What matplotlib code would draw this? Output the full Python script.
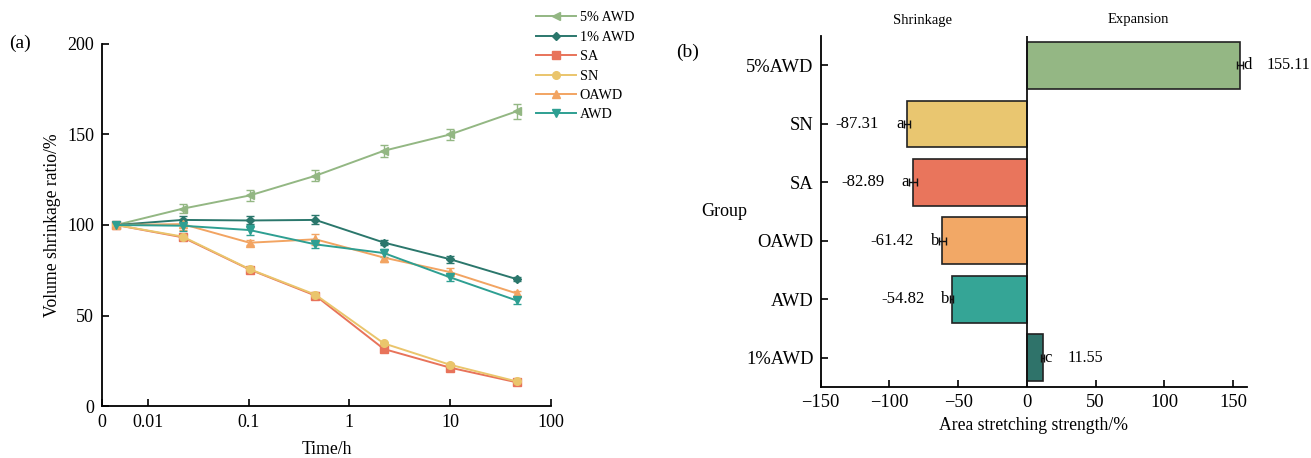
import matplotlib
matplotlib.use("Agg")
import matplotlib.pyplot as plt
from matplotlib.lines import Line2D
import numpy as np

plt.rcParams["font.family"] = ["Liberation Serif", "DejaVu Serif"]
plt.rcParams["axes.unicode_minus"] = True

# ---------------- (a) volume shrinkage ratio over time ----------------
time_h = [0.0048, 0.022, 0.102, 0.46, 2.2, 10.0, 46.0]
series_names = ["5% AWD", "1% AWD", "SA", "SN", "OAWD", "AWD"]
ratio_5awd = [100, 109, 116.3, 127.2, 141, 150, 162.8]
ratio_1awd = [100, 102.8, 102.5, 102.8, 90.3, 81.1, 70.1]
ratio_sa = [100, 93.2, 75.4, 61, 31.5, 21.2, 13.1]
ratio_sn = [100, 93.6, 75.6, 61.5, 34.6, 22.8, 13.6]
ratio_oawd = [100, 100.5, 90.2, 92.1, 82, 74, 62.2]
ratio_awd = [100, 99.6, 97.2, 89.3, 84.5, 71.1, 58.3]
err_5awd = [0.8, 2.5, 3, 3, 3.2, 3, 4.2]
err_1awd = [0.8, 2, 2.2, 2.5, 1.5, 2, 1]
err_sa = [0.8, 1.5, 1.2, 1.2, 1, 1, 1]
err_sn = [0.8, 1.5, 1.2, 1.5, 1, 1, 1]
err_oawd = [0.8, 3, 1.5, 3, 2.5, 2, 1.5]
err_awd = [0.8, 3, 3, 2, 2, 2, 2]

line_colors = ["#93b783", "#2b776c", "#e8735a", "#eac56c", "#f2a462", "#2e9f92"]
line_markers = ["<", "D", "s", "o", "^", "v"]

# ---------------- (b) area stretching strength ----------------
groups = ["1%AWD", "AWD", "OAWD", "SA", "SN", "5%AWD"]
strength = [11.55, -54.82, -61.42, -82.89, -87.31, 155.11]
strength_err = [1.0, 1.2, 2.5, 2.8, 2.0, 2.2]
letters = ["c", "b", "b", "a", "a", "d"]
bar_colors = ["#2f736a", "#35a596", "#f2a866", "#e9755c", "#e9c670", "#94b784"]

fig = plt.figure(figsize=(13.11, 4.58), dpi=100)

# ---- panel (a)
ax1 = fig.add_axes([0.078, 0.1135, 0.342, 0.7905])
all_ratios = [ratio_5awd, ratio_1awd, ratio_sa, ratio_sn, ratio_oawd, ratio_awd]
all_errs = [err_5awd, err_1awd, err_sa, err_sn, err_oawd, err_awd]
handles = []
for name, vals, errs, col, mk in zip(series_names, all_ratios, all_errs, line_colors, line_markers):
    ms = 4.5 if mk == "D" else 5.5
    ax1.errorbar(time_h, vals, yerr=errs, color=col, marker=mk, ms=ms, lw=1.4,
                 capsize=3, elinewidth=1.0, capthick=1.0)
    handles.append(Line2D([], [], color=col, marker=mk, ms=ms, lw=1.4))

ax1.set_xscale("log")
ax1.set_xlim(0.0035, 100)
ax1.set_ylim(0, 200)
ax1.set_xticks([0.0035, 0.01, 0.1, 1, 10, 100])
ax1.set_xticklabels(["0", "0.01", "0.1", "1", "10", "100"])
ax1.xaxis.set_minor_locator(matplotlib.ticker.NullLocator())
ax1.set_yticks([0, 50, 100, 150, 200])
ax1.tick_params(direction="in", length=5, width=1.2, labelsize=13, pad=6)
ax1.spines["top"].set_visible(False)
ax1.spines["right"].set_visible(False)
ax1.spines["left"].set_linewidth(1.3)
ax1.spines["bottom"].set_linewidth(1.3)
ax1.set_xlabel("Time/h", fontsize=12.7, labelpad=7)
ax1.set_ylabel("Volume shrinkage ratio/%", fontsize=12.7, labelpad=4)
fig.text(0.007, 0.905, "(a)", fontsize=14, va="center")

fig.legend(handles, series_names, loc="upper left", bbox_to_anchor=(0.399, 1.003),
           frameon=False, fontsize=10.2, handlelength=2.8, handletextpad=0.3,
           labelspacing=0.45)

# ---- panel (b)
ax2 = fig.add_axes([0.626, 0.155, 0.325, 0.766])
ypos = np.arange(len(groups))
ax2.barh(ypos, strength, height=0.8, color=bar_colors, edgecolor="#222222", linewidth=1.2)
ax2.errorbar(strength, ypos, xerr=strength_err, fmt="none", ecolor="#111111",
             elinewidth=1.0, capsize=3, capthick=1.0)
ax2.axvline(0, color="#111111", lw=1.3)
for y, v, e, lt in zip(ypos, strength, strength_err, letters):
    if v < 0:
        ax2.annotate(lt, (v - e, y), xytext=(0, 0), textcoords="offset points",
                     ha="right", va="center", fontsize=12)
        ax2.annotate(f"{v:.2f}", (v - e, y), xytext=(-18, 0), textcoords="offset points",
                     ha="right", va="center", fontsize=12)
    else:
        ax2.annotate(lt, (v + e, y), xytext=(0.5, 0), textcoords="offset points",
                     ha="left", va="center", fontsize=12)
        ax2.annotate(f"{v:.2f}", (v + e, y), xytext=(17, 0), textcoords="offset points",
                     ha="left", va="center", fontsize=11.6, annotation_clip=False)

ax2.set_xlim(-150, 160)
ax2.set_ylim(-0.5, 5.5)
ax2.set_xticks([-150, -100, -50, 0, 50, 100, 150])
ax2.set_yticks(ypos)
ax2.set_yticklabels(groups)
ax2.tick_params(direction="in", length=5, width=1.2, labelsize=13.3, pad=5)
ax2.spines["top"].set_visible(False)
ax2.spines["right"].set_visible(False)
ax2.spines["left"].set_linewidth(1.3)
ax2.spines["bottom"].set_linewidth(1.3)
ax2.set_xlabel("Area stretching strength/%", fontsize=12.7, labelpad=4)
ax2.set_ylabel("Group", fontsize=13, rotation=0, labelpad=16, va="center")
ax2.text(-76, 1.025, "Shrinkage", transform=ax2.get_xaxis_transform(),
         ha="center", va="bottom", fontsize=10.5)
ax2.text(81, 1.03, "Expansion", transform=ax2.get_xaxis_transform(),
         ha="center", va="bottom", fontsize=10.5)
fig.text(0.516, 0.885, "(b)", fontsize=14, va="center")

fig.savefig("out.png", dpi=100)
